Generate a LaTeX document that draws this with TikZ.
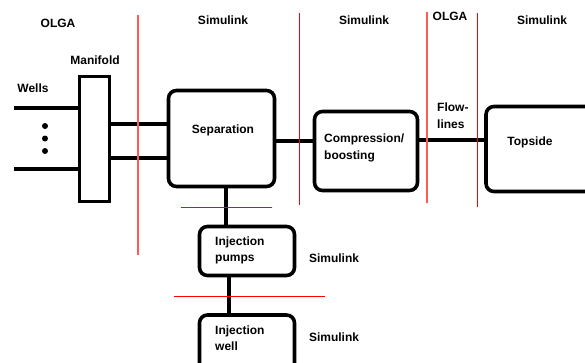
\documentclass[tikz,border=0pt]{standalone}
\usepackage{fontspec}
\setmainfont{Liberation Sans}
\usepackage{tikz}

\begin{document}
\begin{tikzpicture}[
    x=1pt, y=-1pt,
    blk/.style={draw, line width=3.6pt, rounded corners=8pt, inner sep=0pt},
    lbl/.style={font=\bfseries\fontsize{12}{16.5}\selectfont, inner sep=0pt, align=left},
    pipe/.style={line width=3.6pt},
    bnd/.style={red, line width=0.7pt},
    bndl/.style={red!65, line width=1.2pt}
]
    \useasboundingbox[fill=white] (0,0) rectangle (585,362);

    % boxes
    \node[draw, line width=3pt, minimum width=30pt, minimum height=125pt, inner sep=0pt] (manifold) at (94.5,139) {};
    \node[blk, minimum width=106pt, minimum height=96pt] (sep) at (221.5,138.5) {};
    \node[blk, minimum width=103pt, minimum height=79pt] (comp) at (366,151) {};
    \node[blk, minimum width=120pt, minimum height=85pt] (top) at (546,149) {};
    \node[blk, minimum width=95pt, minimum height=49pt] (pump) at (247,251) {};
    \node[blk, minimum width=95pt, minimum height=70pt] (well) at (247,350) {};

    % texts
    \node[lbl] (olga1) at (58,23) {OLGA};
    \node[lbl] (sim1) at (223,20) {Simulink};
    \node[lbl] (sim2) at (364,20) {Simulink};
    \node[lbl] (olga2) at (450,16) {OLGA};
    \node[lbl] (sim3) at (542,20) {Simulink};
    \node[lbl] (manlbl) at (95,60) {Manifold};
    \node[lbl] (welllbl) at (33,88) {Wells};
    \node[lbl] (seplbl) at (223,130) {Separation};
    \node[lbl, anchor=west] (complbl) at (324,148) {Compression/\\boosting};
    \node[lbl, anchor=west] (flowlbl) at (437,115.5) {Flow-\\lines};
    \node[lbl] (toplbl) at (530,142) {Topside};
    \node[lbl, anchor=west] (pumplbl) at (215,250.5) {Injection\\pumps};
    \node[lbl] (sim4) at (334,258) {Simulink};
    \node[lbl, anchor=west] (injlbl) at (215,338) {Injection\\well};
    \node[lbl] (sim5) at (334,337) {Simulink};

    % wells
    \coordinate (w1) at (14,108);
    \coordinate (w2) at (14,169);
    \draw[pipe] (w1) -- (w1 -| manifold.west);
    \draw[pipe] (w2) -- (w2 -| manifold.west);
    \foreach \yy in {126,138.5,151}
        \fill (45,\yy) circle (3pt);

    % pipes
    \draw[pipe] (manifold.east |- 0,124) -- (sep.west |- 0,124);
    \draw[pipe] (manifold.east |- 0,158) -- (sep.west |- 0,158);
    \draw[pipe] (sep.east |- 0,141) -- (comp.west |- 0,141);
    \draw[pipe] (comp.east |- 0,140) -- (top.west |- 0,140);
    \draw[pipe] (sep.south -| 226,0) -- (pump.north -| 226,0);
    \draw[pipe] (pump.south -| 229,0) -- (well.north -| 229,0);

    % boundaries
    \draw[bndl] (138,15) -- (138,255);
    \draw[bnd] (299,13) -- (299,205);
    \draw[bndl] (427,12) -- (427,203);
    \draw[bnd] (477,13) -- (477,207);
    \draw[bnd] (181,207) -- (272,207);
    \draw[bnd] (174,296) -- (325,296);
\end{tikzpicture}
\end{document}
